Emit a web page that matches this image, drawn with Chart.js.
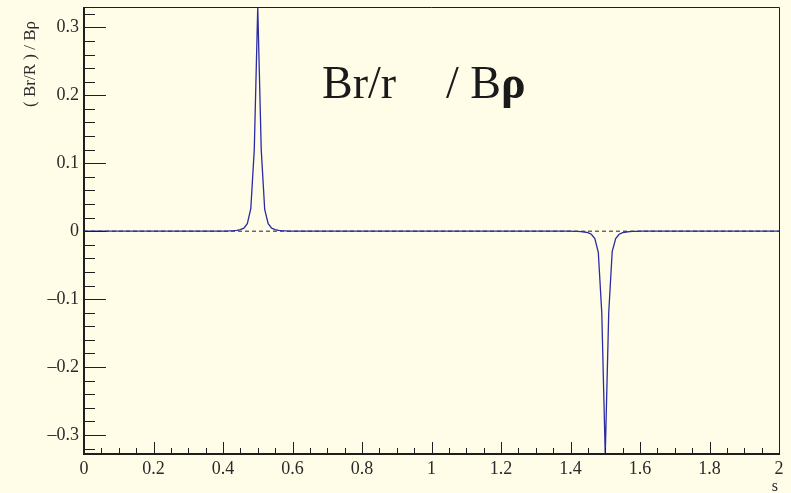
<!DOCTYPE html>
<html>
<head>
<meta charset="utf-8">
<script src="https://cdn.jsdelivr.net/npm/chart.js@4/dist/chart.umd.min.js"></script>
<style>
  html, body { margin: 0; padding: 0; background: #fffce8; }
  #wrap { width: 791px; height: 493px; }
</style>
</head>
<body>
<div id="wrap"><canvas id="c" width="791" height="493"></canvas></div>
<script>
// field profile along s (only the points around the two kicks, flat elsewhere)
let sVals = [0, 0.40, 0.41, 0.42, 0.43, 0.44, 0.45, 0.46, 0.47, 0.48, 0.49, 0.50,
  0.51, 0.52, 0.53, 0.54, 0.55, 0.56, 0.57, 0.58, 0.59, 0.60,
  1.40, 1.41, 1.42, 1.43, 1.44, 1.45, 1.46, 1.47, 1.48, 1.49, 1.50,
  1.51, 1.52, 1.53, 1.54, 1.55, 1.56, 1.57, 1.58, 1.59, 1.60, 2];
let brVals = [0, 0, 0.0002, 0.0004, 0.0007, 0.0012, 0.0022, 0.0045, 0.011, 0.033, 0.12, 0.33,
  0.12, 0.032, 0.011, 0.0045, 0.0022, 0.0012, 0.0007, 0.0004, 0.0002, 0,
  0, -0.0002, -0.0004, -0.0007, -0.0012, -0.0022, -0.0045, -0.011, -0.031, -0.12, -0.33,
  -0.12, -0.03, -0.011, -0.0045, -0.0022, -0.0012, -0.0007, -0.0004, -0.0002, 0, 0];

let xTicks = [0, 0.2, 0.4, 0.6, 0.8, 1, 1.2, 1.4, 1.6, 1.8, 2];
let xLabels = ["0", "0.2", "0.4", "0.6", "0.8", "1", "1.2", "1.4", "1.6", "1.8", "2"];
let yTicks = [-0.3, -0.2, -0.1, 0, 0.1, 0.2, 0.3];
let yLabels = ["\u20130.3", "\u20130.2", "\u20130.1", "0", "0.1", "0.2", "0.3"];

let serif = "'Liberation Serif', 'DejaVu Serif', serif";
let ink = "#1e1e1e";

let points = sVals.map((s, i) => ({ x: s, y: brVals[i] }));

// inward ticks, frame and the text overlays
let frame = {
  id: "frame",
  afterDatasetsDraw(chart) {
    let ctx = chart.ctx;
    let a = chart.chartArea;
    let xs = chart.scales.x, ys = chart.scales.y;
    ctx.save();
    ctx.strokeStyle = ink;

    // x ticks: major every 0.2, minor every 0.05
    ctx.lineWidth = 1;
    for (let k = 0; k <= 40; k++) {
      let px = Math.round(xs.getPixelForValue(k * 0.05)) + 0.5;
      let len = (k % 4 === 0) ? 12 : 6;
      ctx.beginPath();
      ctx.moveTo(px, a.bottom);
      ctx.lineTo(px, a.bottom - len);
      ctx.stroke();
    }
    // y ticks: major every 0.1, minor every 0.02
    for (let k = -16; k <= 16; k++) {
      let py = Math.round(ys.getPixelForValue(k * 0.02)) + 0.5;
      let len = (k % 5 === 0) ? 22 : 11;
      ctx.beginPath();
      ctx.moveTo(a.left, py);
      ctx.lineTo(a.left + len, py);
      ctx.stroke();
    }

    // top and right border thin, axes thick
    ctx.lineWidth = 1;
    ctx.beginPath();
    ctx.moveTo(a.left, a.top + 0.5);
    ctx.lineTo(a.right + 0.5, a.top + 0.5);
    ctx.lineTo(a.right + 0.5, a.bottom);
    ctx.stroke();
    ctx.lineWidth = 2;
    ctx.beginPath();
    ctx.moveTo(a.left, a.top);
    ctx.lineTo(a.left, a.bottom);
    ctx.lineTo(a.right + 1, a.bottom);
    ctx.stroke();

    // axis titles
    ctx.fillStyle = "#2a2a2a";
    ctx.font = "16px " + serif;
    ctx.textAlign = "right";
    ctx.textBaseline = "alphabetic";
    ctx.fillText("s", a.right - 1, 491);

    ctx.save();
    ctx.translate(35, 64);
    ctx.rotate(-Math.PI / 2);
    ctx.textAlign = "center";
    ctx.font = "17px " + serif;
    ctx.fillText("( Br/R ) / B\u03c1", 0, 0);
    ctx.restore();

    // big label inside the frame
    ctx.fillStyle = "#1a1a1a";
    ctx.textAlign = "left";
    ctx.font = "46px " + serif;
    ctx.fillText("Br/r", 322, 98);
    ctx.fillText("/ B", 446, 98);
    let w = ctx.measureText("/ B").width;
    ctx.font = "bold 46px " + serif;
    ctx.fillText("\u03c1", 446 + w, 98);

    ctx.restore();
  }
};

new Chart(document.getElementById("c"), {
  type: "line",
  data: {
    datasets: [
      {
        data: points,
        borderColor: "#2b2ba6",
        borderWidth: 1.3,
        pointRadius: 0,
        tension: 0,
        clip: 0
      },
      {
        data: [{ x: 0, y: 0 }, { x: 2, y: 0 }],
        borderColor: "#222",
        borderWidth: 1,
        borderDash: [4, 3],
        pointRadius: 0
      }
    ]
  },
  options: {
    responsive: false,
    animation: false,
    layout: { padding: { top: 7, right: 12, left: 0, bottom: 0 } },
    plugins: { legend: { display: false }, tooltip: { enabled: false } },
    scales: {
      x: {
        type: "linear",
        min: 0,
        max: 2,
        grid: { display: false, drawTicks: false },
        border: { display: false },
        afterBuildTicks: (s) => { s.ticks = xTicks.map(v => ({ value: v })); },
        afterFit: (s) => { s.height = 39; s.paddingLeft = 0; s.paddingRight = 0; },
        ticks: {
          padding: 4,
          maxRotation: 0,
          autoSkip: false,
          color: "#2a2a2a",
          font: { family: serif, size: 18 },
          callback: (v, i) => xLabels[i]
        }
      },
      y: {
        type: "linear",
        min: -0.328,
        max: 0.33,
        grid: { display: false, drawTicks: false },
        border: { display: false },
        afterBuildTicks: (s) => { s.ticks = yTicks.map(v => ({ value: v })); },
        afterFit: (s) => { s.width = 84; s.paddingTop = 0; s.paddingBottom = 0; },
        ticks: {
          padding: 5,
          autoSkip: false,
          color: "#2a2a2a",
          font: { family: serif, size: 18 },
          callback: (v, i) => yLabels[i]
        }
      }
    }
  },
  plugins: [frame]
});
</script>
</body>
</html>
